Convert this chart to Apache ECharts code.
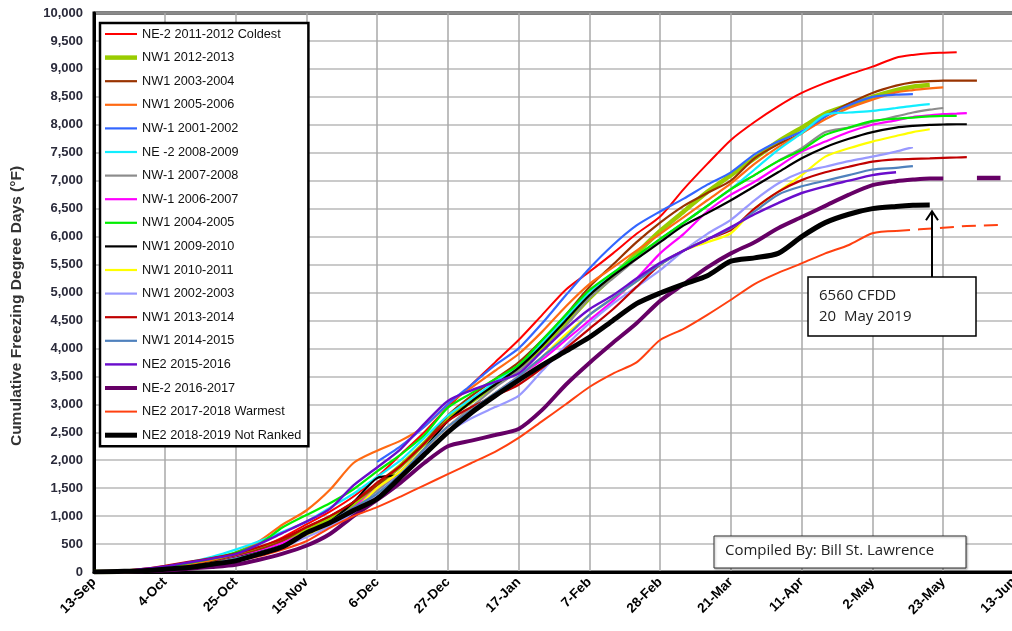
<!DOCTYPE html>
<html><head><meta charset="utf-8">
<script src="https://cdn.jsdelivr.net/npm/echarts@6/dist/echarts.min.js"></script>
<style>html,body{margin:0;padding:0;background:#fff}#c{width:1012px;height:631px}</style>
</head><body><div id="c"></div>
<script>
// days since 13-Sep
const days = [0,7,14,21,28,35,42,49,56,63,70,77,84,91,98,105,112,119,126,133,140,147,154,161,168,175,182,189,196,203,210,217,224,231,238,243,248,252,256,259,262,266,269];
const xTickLabels = ['13-Sep','4-Oct','25-Oct','15-Nov','6-Dec','27-Dec','17-Jan','7-Feb','28-Feb','21-Mar','11-Apr','2-May','23-May','13-Jun'];

const ne2_2011_2012 = [0,10,40,80,140,210,300,430,620,850,1080,1350,1700,2100,2500,2950,3350,3750,4150,4600,5050,5370,5700,6050,6360,6850,7300,7730,8050,8330,8570,8750,8900,9040,9200,9250,9280,9290,9300];
const nw1_2012_2013 = [0,5,25,60,110,180,280,400,560,750,950,1200,1550,1900,2300,2750,3050,3350,3650,4000,4450,4900,5300,5700,6100,6450,6800,7100,7400,7700,7950,8200,8350,8500,8620,8680,8710];
const nw1_2003_2004 = [0,5,25,60,110,180,280,400,560,800,1000,1250,1550,1900,2300,2800,3150,3450,3750,4150,4600,5100,5500,5900,6250,6550,6780,7000,7400,7650,7850,8150,8380,8570,8700,8760,8780,8790,8790,8790,8790];
const nw1_2005_2006 = [0,10,40,80,140,220,350,550,850,1100,1470,1950,2170,2350,2600,3000,3300,3600,3900,4300,4750,5150,5450,5750,6050,6350,6650,6950,7300,7600,7850,8100,8300,8450,8580,8620,8650,8670];
const nw1_2001_2002 = [null,null,null,null,null,null,null,null,null,null,null,null,1970,2250,2600,3000,3350,3700,4000,4450,4950,5430,5850,6200,6450,6680,6930,7150,7470,7700,7880,8150,8350,8500,8540,8550];
const ne2_2008_2009 = [0,10,40,90,170,270,400,550,720,900,1150,1400,1700,2000,2400,2800,3100,3400,3700,4100,4550,5000,5350,5650,5950,6250,6550,6850,7200,7550,7850,8180,8220,8250,8300,8340,8370];
const nw1_2007_2008 = [0,5,20,50,100,160,250,360,500,700,900,1150,1450,1800,2200,2600,2950,3300,3600,3950,4400,4900,5250,5600,5950,6250,6550,6850,7100,7350,7580,7870,7950,8050,8150,8220,8270,8300];
const nw1_2006_2007 = [0,5,20,50,100,160,260,370,520,700,900,1150,1500,1800,2200,2600,2900,3200,3500,3800,4150,4500,4850,5250,5700,6050,6450,6750,6980,7250,7520,7700,7870,8000,8080,8140,8170,8190,8200,8210];
const nw1_2004_2005 = [0,10,40,90,160,240,350,500,800,1020,1230,1480,1800,2100,2450,2940,3200,3450,3700,4150,4600,5040,5350,5650,5960,6250,6550,6850,7100,7350,7550,7820,7950,8070,8110,8130,8150,8160,8160];
const nw1_2009_2010 = [0,5,20,50,100,160,250,350,480,650,900,1250,1680,1750,2200,2700,3050,3350,3650,4050,4500,4950,5300,5600,5900,6200,6420,6650,6900,7150,7400,7600,7750,7870,7950,7980,8000,8005,8010,8010];
const nw1_2010_2011 = [0,5,20,50,100,160,240,340,470,650,850,1100,1500,1800,2200,2600,2900,3200,3500,3850,4250,4600,4900,5200,5500,5750,5900,6060,6500,6800,7100,7430,7580,7700,7800,7870,7920];
const nw1_2002_2003 = [0,5,20,50,90,150,230,330,450,620,820,1050,1400,1750,2150,2500,2750,2950,3150,3600,4050,4450,4800,5100,5400,5750,6050,6300,6650,6950,7150,7250,7350,7430,7520,7600];
const nw1_2013_2014 = [0,15,50,110,180,250,330,450,600,800,1000,1250,1600,1900,2300,2700,2950,3150,3350,3650,4000,4350,4700,5100,5500,5750,5950,6120,6500,6800,7010,7150,7250,7340,7380,7390,7400,7410,7415,7420];
const nw1_2014_2015 = [0,5,20,50,90,150,240,350,480,700,900,1150,1400,1750,2200,2600,2900,3200,3500,3850,4200,4600,4900,5200,5500,5750,5950,6150,6450,6750,6900,7000,7100,7200,7230,7260];
const ne2_2015_2016 = [0,15,50,100,170,240,320,500,700,900,1130,1550,1870,2200,2650,3060,3250,3400,3550,3950,4350,4700,4950,5250,5530,5750,5950,6170,6400,6600,6780,6900,7000,7100,7150];
const ne2_2016_2017 = [0,5,15,30,60,90,130,220,330,470,680,1000,1290,1600,1950,2250,2350,2450,2560,2900,3350,3740,4100,4450,4850,5150,5450,5700,5900,6150,6350,6550,6750,6920,6990,7020,7040,7040];
const ne2_2016_2017_tailDays = [262,269];
const ne2_2016_2017_tail = [7050,7050];
const ne2_2017_2018 = [0,10,30,60,100,150,200,280,400,550,790,1000,1160,1350,1550,1750,1950,2150,2400,2700,3000,3310,3550,3750,4150,4350,4600,4870,5150,5350,5520,5700,5850,6060,6100];
const ne2_2017_2018_tailDays = [238,245,252,259,269];
const ne2_2017_2018_tail = [6100,6130,6160,6190,6210];
const ne2_2018_2019 = [0,10,20,50,80,140,200,320,450,700,880,1100,1310,1700,2100,2500,2850,3150,3430,3700,3950,4200,4500,4800,4990,5150,5300,5560,5620,5700,6000,6250,6400,6500,6540,6560,6565];
const annotationPoint = [249, 6560];

const seriesDefs = [
  {name:'NE-2 2011-2012 Coldest', color:'#ff0000', w:2, v:ne2_2011_2012},
  {name:'NW1 2012-2013', color:'#99cc00', w:4.5, v:nw1_2012_2013},
  {name:'NW1 2003-2004', color:'#993300', w:2.2, v:nw1_2003_2004},
  {name:'NW1 2005-2006', color:'#ff6a13', w:2.2, v:nw1_2005_2006},
  {name:'NW-1 2001-2002', color:'#3366ff', w:2.2, v:nw1_2001_2002},
  {name:'NE -2 2008-2009', color:'#11eeff', w:2.2, v:ne2_2008_2009},
  {name:'NW-1 2007-2008', color:'#8c8c8c', w:2.2, v:nw1_2007_2008},
  {name:'NW-1 2006-2007', color:'#ff00ff', w:2.2, v:nw1_2006_2007},
  {name:'NW1 2004-2005', color:'#00ee00', w:2.2, v:nw1_2004_2005},
  {name:'NW1 2009-2010', color:'#000000', w:2.2, v:nw1_2009_2010},
  {name:'NW1 2010-2011', color:'#ffff00', w:2.2, v:nw1_2010_2011},
  {name:'NW1 2002-2003', color:'#9999ff', w:2.2, v:nw1_2002_2003},
  {name:'NW1 2013-2014', color:'#c00000', w:2.2, v:nw1_2013_2014},
  {name:'NW1 2014-2015', color:'#4f81bd', w:2.2, v:nw1_2014_2015},
  {name:'NE2 2015-2016', color:'#6a0dcc', w:2.4, v:ne2_2015_2016},
  {name:'NE-2 2016-2017', color:'#660066', w:4, v:ne2_2016_2017},
  {name:'NE2 2017-2018 Warmest', color:'#ff4010', w:2, v:ne2_2017_2018},
  {name:'NE2 2018-2019 Not Ranked', color:'#000000', w:5, v:ne2_2018_2019}
];

const series = seriesDefs.map((d,i)=>({
  name:d.name, type:'line', symbol:'none', showSymbol:false, smooth:0.25,
  connectNulls:false, z:2+i*0.01,
  lineStyle:{color:d.color, width:d.w}, itemStyle:{color:d.color},
  data:d.v.map((v,k)=>[days[k], v])
}));
series.push({
  name:'NE-2 2016-2017', type:'line', symbol:'none', showSymbol:false,
  lineStyle:{color:'#660066', width:4.5}, itemStyle:{color:'#660066'},
  data:ne2_2016_2017_tailDays.map((d,k)=>[d, ne2_2016_2017_tail[k]])
});
series.push({
  name:'NE2 2017-2018 Warmest', type:'line', symbol:'none', showSymbol:false,
  lineStyle:{color:'#ff4010', width:2, type:[14,8]}, itemStyle:{color:'#ff4010'},
  data:ne2_2017_2018_tailDays.map((d,k)=>[d, ne2_2017_2018_tail[k]])
});

const chart = echarts.init(document.getElementById('c'), null, {renderer:'canvas'});
chart.setOption({
  animation:false,
  backgroundColor:'#fff',
  grid:{left:94, top:13, right:-2, bottom:59, show:true, borderColor:'#000', borderWidth:3,
    backgroundColor:'transparent', containLabel:false, outerBoundsMode:'none'},
  xAxis:{type:'value', min:0, max:273, interval:21,
    axisLine:{show:true, onZero:false, lineStyle:{color:'#000', width:3}},
    axisTick:{show:false},
    axisLabel:{rotate:45, fontWeight:'bold', fontSize:13.5, color:'#000', fontFamily:'Liberation Sans, Arial', margin:8,
      formatter:(v)=>xTickLabels[Math.round(v/21)] || ''},
    splitLine:{show:true, lineStyle:{color:'#a8a8a8', width:1.5}}
  },
  yAxis:{type:'value', min:0, max:10000, interval:500,
    axisLine:{show:true, lineStyle:{color:'#000', width:3}},
    axisTick:{show:false},
    axisLabel:{fontWeight:'bold', fontSize:13, color:'#2a2a3a', fontFamily:'Liberation Sans, Arial', margin:11,
      formatter:(v)=>v.toLocaleString('en-US')},
    splitLine:{show:true, lineStyle:{color:'#b8b8b8', width:1.5}}
  },
  legend:{
    orient:'vertical', left:100, top:23, padding:[4,7,4,5],
    backgroundColor:'#fff', borderColor:'#000', borderWidth:2.5,
    itemWidth:32, itemHeight:14, itemGap:9.6, symbolKeepAspect:true,
    textStyle:{fontSize:12.7, color:'#111', fontFamily:'Liberation Sans, Arial', lineHeight:14},
    data:seriesDefs.map(d=>({name:d.name, icon:'path://M0,0h32v'+d.w+'h-32z'}))
  },
  series:series
});

const tip = chart.convertToPixel({gridIndex:0}, annotationPoint);
const ax = Math.round(tip[0]) - 1;
const ay = tip[1] + 6;
chart.setOption({
  graphic:[
    {type:'text', x:17, y:306, rotation:Math.PI/2, style:{text:'Cumulative Freezing Degree Days (°F)', font:'bold 15.5px "Liberation Sans", Arial, sans-serif', fill:'#333', textAlign:'center', textVerticalAlign:'middle'}, z:100},
    {type:'line', shape:{x1:ax, y1:ay, x2:ax, y2:278}, style:{stroke:'#000', lineWidth:2}, z:100},
    {type:'polyline', shape:{points:[[ax-6, ay+9],[ax, ay],[ax+6, ay+9]]}, style:{stroke:'#000', lineWidth:2, fill:null}, z:100},
    {type:'rect', shape:{x:808, y:277, width:168, height:59}, style:{fill:'#fff', stroke:'#000', lineWidth:1.5}, z:100},
    {type:'text', x:819, y:285, style:{text:'6560 CFDD\n20  May 2019', font:'15px "Open Sans", "Liberation Sans", sans-serif', fill:'#222', lineHeight:21}, z:101},
    {type:'rect', shape:{x:714, y:536, width:252, height:32}, style:{fill:'#fff', stroke:'#333', lineWidth:1, shadowColor:'rgba(0,0,0,0.3)', shadowBlur:2, shadowOffsetX:1, shadowOffsetY:1}, z:100},
    {type:'text', x:725, y:543, style:{text:'Compiled By: Bill St. Lawrence', font:'15px "Open Sans", "Liberation Sans", sans-serif', fill:'#222'}, z:101}
  ]
});
</script>
</body></html>
